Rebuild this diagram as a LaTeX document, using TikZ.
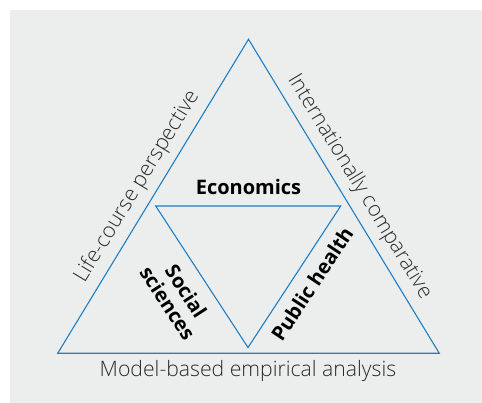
\documentclass[tikz,border=0pt]{standalone}
\usepackage{fontspec}
\setmainfont{Open Sans}
\newfontfamily\lightf{Open Sans Light}
\definecolor{bg}{HTML}{ECEDED}
\definecolor{tri}{HTML}{1F7FC4}
\definecolor{txt}{HTML}{2A2A2A}
\begin{document}
\begin{tikzpicture}[x=1pt,y=-1pt,
  edge/.style={draw=tri, line width=1.1pt, line join=miter},
  lbl/.style={font=\lightf\fontsize{21.2}{23}\selectfont, text=txt, inner sep=0pt},
  blbl/.style={font=\bfseries\fontsize{20}{22}\selectfont, text=black, inner sep=0pt}]
\useasboundingbox (0,0) rectangle (482,403);
\fill[bg] (10,10) rectangle (482,403);
\coordinate (A) at (248.5,39.3);
\coordinate (B) at (57.7,353.3);
\coordinate (C) at (439.3,353.3);
\coordinate (P) at (155.7,206);
\coordinate (Q) at (340.7,206);
\coordinate (R) at (248,347.5);
\draw[edge] (A) -- (B) -- (C) -- cycle;
\draw[edge] (P) -- (Q) -- (R) -- cycle;
\node[lbl, rotate=58.7] (life) at (137.1,186.6) {Life-course perspective};
\node[lbl, rotate=-58.7] (intl) at (359.5,186.8) {Internationally comparative};
\node[lbl, anchor=base] (model) at (248,376) {Model-based empirical analysis};
\node[blbl, anchor=base] (econ) at (248.5,195) {Economics};
\node[blbl, rotate=-56.9, align=center] (soc) at (177,297) {Social\\sciences};
\node[blbl, rotate=56.6] (ph) at (312,284) {Public health};
\end{tikzpicture}
\end{document}
